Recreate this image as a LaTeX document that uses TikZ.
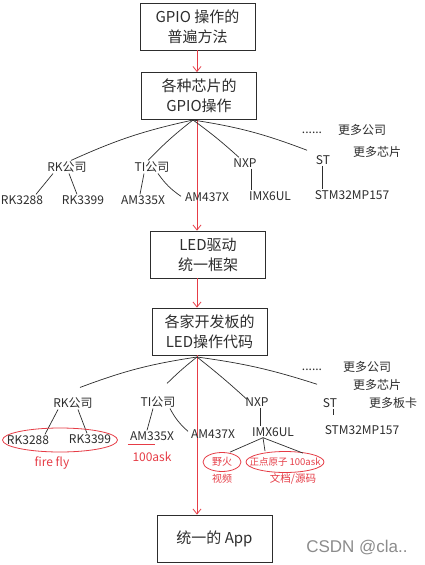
\documentclass[tikz,border=0pt]{standalone}
\usepackage{fontspec}
\setmainfont{Noto Sans CJK SC}
\usetikzlibrary{arrows.meta,calc,shapes.geometric}
\definecolor{ink}{RGB}{45,45,45}
\definecolor{redink}{RGB}{230,60,70}
\begin{document}
\begin{tikzpicture}[x=1pt,y=-1pt,
  box/.style={draw=ink, line width=0.8pt, minimum width=115pt, minimum height=47pt,
    align=center, font=\fontsize{15}{20}\selectfont, inner sep=2pt, text=ink},
  lbl/.style={font=\fontsize{12}{14}\selectfont, inner sep=1pt, text=ink},
  rlbl/.style={lbl, text=redink},
  br/.style={draw=ink, line width=0.7pt},
  flow/.style={draw=redink, line width=0.8pt, -{Straight Barb[length=5pt,width=8pt]}},
  ring/.style={draw=redink, line width=0.8pt, ellipse, inner sep=0pt},
  rline/.style={draw=redink, line width=0.8pt}
]
\useasboundingbox[fill=white] (0,0) rectangle (424,565);

% main boxes
\node[box] (b1) at (197.5,26.5) {GPIO 操作的\\普遍方法};
\node[box] (b2) at (199,96) {各种芯片的\\GPIO操作};
\node[box] (b3) at (208,254.5) {LED驱动\\统一框架};
\node[box] (b4) at (209.5,331.5) {各家开发板的\\LED操作代码};
\node[box] (b5) at (214.5,538.5) {统一的 App};

% red flow
\coordinate (rx) at (197,0);
\draw[flow] (b1.south -| rx) -- (b2.north -| rx);
\draw[flow] (b2.south -| rx) -- (b3.north -| rx);
\draw[flow] (b3.south -| rx) -- (b4.north -| rx);
\draw[flow] (b4.south -| rx) -- (b5.north -| rx);

% ---------- tree 1 ----------
\coordinate (t1) at (193,120);
\node[lbl] (rk1) at (67,167) {RK公司};
\node[lbl] (ti1) at (152,167) {TI公司};
\node[lbl] (nxp1) at (245,163) {NXP};
\node[lbl] (st1) at (323,160) {ST};
\node[lbl] (dots1) at (312,133) {......};
\node[lbl] (more1) at (362,130) {更多公司};
\node[lbl] (more2) at (377,152) {更多芯片};

\node[lbl] (rk3288a) at (22,200) {RK3288};
\node[lbl] (rk3399a) at (83,200) {RK3399};
\node[lbl] (am335a) at (143,200) {AM335X};
\node[lbl] (am437a) at (207,197) {AM437X};
\node[lbl] (imxa) at (270,196) {IMX6UL};
\node[lbl] (stma) at (352,195) {STM32MP157};

\draw[br] (t1) to[bend right=6] ([xshift=4pt]rk1.north);
\draw[br] (t1) to[bend right=4] ([xshift=-4pt]ti1.north);
\draw[br] (t1) to[bend left=3] ([xshift=-6pt]nxp1.north);
\draw[br] (t1) to[bend left=6] ([xshift=-16pt,yshift=4pt]st1.north);

\draw[br] ([xshift=-14pt]rk1.south) -- ([xshift=14pt]rk3288a.north);
\draw[br] ([xshift=2pt]rk1.south) -- ([xshift=-6pt]rk3399a.north);
\draw[br] ([xshift=-8pt]ti1.south) -- ([xshift=-3pt]am335a.north);
\draw[br] ([xshift=6pt]ti1.south) to[bend right=10] ([xshift=-26pt,yshift=-5pt]am437a.north);
\draw[br] ([xshift=6pt]nxp1.south) -- ([xshift=-19pt]imxa.north);
\draw[br] ([xshift=-1pt]st1.south) -- ([xshift=-30pt]stma.north);

% ---------- tree 2 ----------
\coordinate (t2) at (197,357);
\node[lbl] (rk2) at (73,403) {RK公司};
\node[lbl] (ti2) at (158,402) {TI公司};
\node[lbl] (nxp2) at (257,402) {NXP};
\node[lbl] (st2) at (330,403) {ST};
\node[lbl] (dots2) at (312,370) {......};
\node[lbl] (more3) at (367,367) {更多公司};
\node[lbl] (more4) at (377,385) {更多芯片};
\node[lbl] (more5) at (393,403) {更多板卡};

\node[lbl] (rk3288b) at (28,440) {RK3288};
\node[lbl] (rk3399b) at (90,439) {RK3399};
\node[lbl] (am335b) at (152,436) {AM335X};
\node[lbl] (am437b) at (213,434) {AM437X};
\node[lbl] (imxb) at (273,432) {IMX6UL};
\node[lbl] (stmb) at (362,430) {STM32MP157};

\draw[br] (t2) to[bend right=6] ([xshift=7pt,yshift=9pt]rk2.north);
\draw[br] (t2) to[bend right=3] ([xshift=9pt,yshift=12pt]ti2.north);
\draw[br] (t2) to[bend left=2] ([xshift=-10pt,yshift=-3pt]nxp2.north);
\draw[br] (t2) to[bend left=5] ([xshift=-13pt,yshift=13pt]st2.north);

\draw[br] ([xshift=-15pt]rk2.south) -- ([xshift=17pt]rk3288b.north);
\draw[br] ([xshift=5pt]rk2.south) -- ([xshift=-3pt]rk3399b.north);
\draw[br] ([xshift=-5pt]ti2.south) -- ([xshift=-5pt]am335b.north);
\draw[br] ([xshift=12pt]ti2.south) to[bend right=10] ([xshift=-25pt,yshift=-3pt]am437b.north);
\draw[br] ([xshift=3pt]nxp2.south) -- ([xshift=-13pt]imxb.north);
\draw[br] ([xshift=3pt]st2.south) -- ([xshift=-29pt,yshift=9pt]stmb.north);

% red annotations
\node[ring, minimum width=115pt, minimum height=24pt] (ringrk) at (60,440) {};
\node[rlbl] (firefly) at (52,463) {fire fly};
\draw[rline] ([xshift=-1pt,yshift=-3pt]am335b.south west) -- ([xshift=3pt,yshift=-3pt]am335b.south);
\node[rlbl] (ask1) at (152,457) {100ask};

\node[rlbl, font=\fontsize{10}{12}\selectfont] (yehuo) at (222,462) {野火};
\node[rlbl, font=\fontsize{9.5}{12}\selectfont] (zdyz) at (285,462) {正点原子 100ask};
\node[ring, minimum width=38pt, minimum height=19pt] (ringyh) at (222,462) {};
\node[ring, minimum width=78pt, minimum height=21pt] (ringzd) at (285,462) {};
\node[rlbl, font=\fontsize{10}{12}\selectfont] (shipin) at (222,479) {视频};
\node[rlbl, font=\fontsize{10.5}{12}\selectfont] (wendang) at (293,479) {文档/源码};

\draw[br] ([xshift=-10pt]imxb.south) -- ([xshift=8pt]ringyh.north);
\draw[br] ([xshift=-10pt]imxb.south) -- ([xshift=-20pt]ringzd.north);
\draw[br] ([xshift=-10pt]imxb.south) -- ([xshift=18pt,yshift=-2pt]ringzd.north);

% watermark
\node[text=black!45, inner sep=0pt] (csdn) at (357,548) {\fontspec{Liberation Sans}\fontsize{17}{20}\selectfont CSDN @cla..};
\end{tikzpicture}
\end{document}
